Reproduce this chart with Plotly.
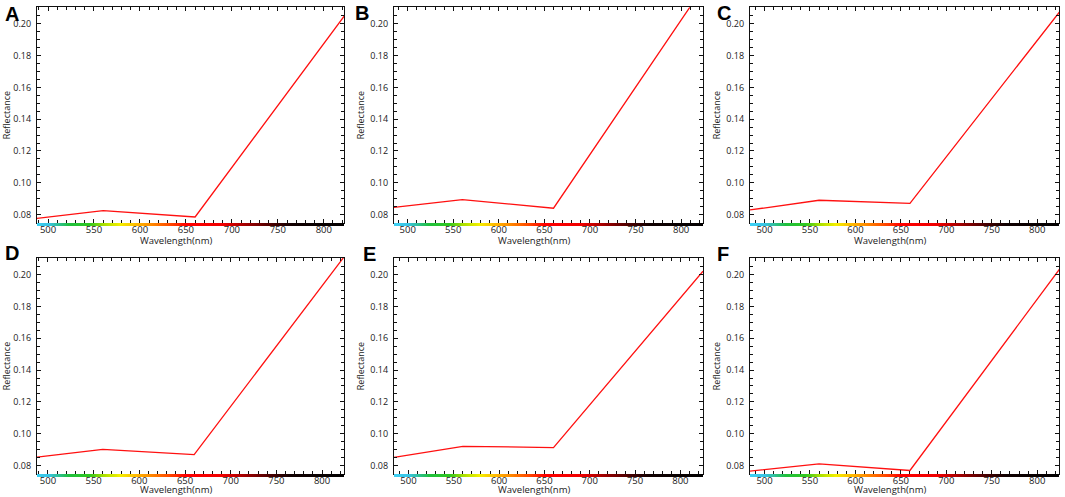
import numpy as np
import plotly.graph_objects as go

W, H = 1065, 497

# ---- data ----
panel_labels = ["A", "B", "C", "D", "E", "F"]
wavelength = [484, 560, 660, 825]
refl_A = [0.0773, 0.0825, 0.0785, 0.2070]
refl_B = [0.0845, 0.0894, 0.0840, 0.2235]
refl_C = [0.0829, 0.0890, 0.0871, 0.2078]
refl_D = [0.0850, 0.0902, 0.0869, 0.2118]
refl_E = [0.0852, 0.0921, 0.0913, 0.2021]
refl_F = [0.0765, 0.0810, 0.0769, 0.2037]
series = [refl_A, refl_B, refl_C, refl_D, refl_E, refl_F]

x_ranges = [[488, 822], [485, 824], [484, 824], [488, 824], [484, 825], [484, 824]]
y_range = [0.0747, 0.2104]

x_ticks = [500, 550, 600, 650, 700, 750, 800]
y_ticks = [0.08, 0.10, 0.12, 0.14, 0.16, 0.18, 0.20]
x_title = "Wavelength(nm)"
y_title = "Reflectance"

# spectrum colour bar stops (wavelength, colour)
spec_wl = [480, 500, 510, 522, 545, 560, 578, 596, 615, 635, 650, 690, 715, 740, 765, 830]
spec_col = ["#40d4f8", "#38c4e4", "#30c09a", "#20c040", "#30c820", "#a8e000", "#f4f000",
            "#ffb800", "#ff8000", "#ff4000", "#ff0000", "#f00000", "#a00000", "#500000",
            "#100000", "#000000"]

# ---- layout geometry (pixels) ----
col_x = [(37, 344), (394, 703), (750, 1059)]
row_y = [(7.3, 223), (258, 474)]
bar_h = 3
xtitle_y = [240, 489]
letter_pos = [(3, 1), (353, 0), (715, 0), (3, 240), (361, 241), (715, 241)]

fig = go.Figure()
font_fam = "Open Sans"

wl_grid = np.arange(spec_wl[0], spec_wl[-1] + 1, 1)
cs = [[(w - spec_wl[0]) / (spec_wl[-1] - spec_wl[0]), c] for w, c in zip(spec_wl, spec_col)]

for i in range(6):
    r, c = divmod(i, 3)
    n = i + 1
    nb = i + 7
    xa = "x" if n == 1 else f"x{n}"
    ya = "y" if n == 1 else f"y{n}"
    yb = f"y{nb}"
    # spectrum bar (on its own thin axis under the plot area)
    fig.add_trace(go.Heatmap(
        x=wl_grid, y=[0, 1], z=[wl_grid[:-1]],
        colorscale=cs, zmin=spec_wl[0], zmax=spec_wl[-1], showscale=False,
        hoverinfo="skip", xaxis=xa, yaxis=yb))
    fig.add_trace(go.Scatter(
        x=wavelength, y=series[i], mode="lines",
        line=dict(color="#ff1010", width=1.3), showlegend=False,
        xaxis=xa, yaxis=ya, cliponaxis=True))

    x0, x1 = col_x[c]
    y0, y1 = row_y[r]
    xd = [x0 / W, x1 / W]
    yd = [1 - y1 / H, 1 - y0 / H]
    ybd = [1 - (y1 + bar_h) / H, 1 - y1 / H]
    fig.layout[("xaxis" if n == 1 else f"xaxis{n}")] = dict(
        domain=xd, anchor=ya, range=x_ranges[i], tickvals=x_ticks,
        ticks="inside", ticklen=4, tickwidth=1, tickcolor="#111",
        minor=dict(dtick=10, ticks="inside", ticklen=2.5, tickwidth=1, tickcolor="#111"),
        showline=True, linecolor="#111", linewidth=1.2, mirror="ticks",
        showgrid=False, zeroline=False,
        tickfont=dict(family=font_fam, size=9.5, color="#1a1a1a"),
        ticklabelstandoff=-3, automargin=False)
    fig.layout[("yaxis" if n == 1 else f"yaxis{n}")] = dict(
        domain=yd, anchor=xa, range=y_range, tickvals=y_ticks, tickformat=".2f",
        ticks="inside", ticklen=4, tickwidth=1, tickcolor="#111",
        minor=dict(dtick=0.005, ticks="inside", ticklen=2.5, tickwidth=1, tickcolor="#111"),
        showline=True, linecolor="#111", linewidth=1.3, mirror="ticks",
        showgrid=False, zeroline=False,
        tickfont=dict(family=font_fam, size=9, color="#1a1a1a"), ticklabelstandoff=3,
        title=dict(text=y_title, font=dict(family=font_fam, size=9, color="#1a1a1a"), standoff=4),
        automargin=False)
    fig.layout[f"yaxis{nb}"] = dict(domain=ybd, anchor=xa, range=[0, 1], visible=False,
                                    fixedrange=True)
    # x-axis title
    fig.add_annotation(text=x_title, xref="paper", yref="paper",
                       x=((x0 + x1) / 2 - 15) / W, y=1 - xtitle_y[r] / H,
                       xanchor="center", yanchor="middle", showarrow=False,
                       font=dict(family=font_fam, size=9.5, color="#1a1a1a"))
    # panel letter
    lx, ly = letter_pos[i]
    fig.add_annotation(text=f"<b>{panel_labels[i]}</b>", xref="paper", yref="paper",
                       x=lx / W, y=1 - ly / H, xanchor="left", yanchor="top", showarrow=False,
                       font=dict(family="Liberation Sans", size=20, color="#000"))

fig.update_layout(width=W, height=H, margin=dict(l=0, r=0, t=0, b=0),
                  paper_bgcolor="white", plot_bgcolor="white", showlegend=False)

fig.write_html("out.html", config={"displayModeBar": False},
               post_script="document.body.style.margin='0';document.body.style.overflow='hidden';")
